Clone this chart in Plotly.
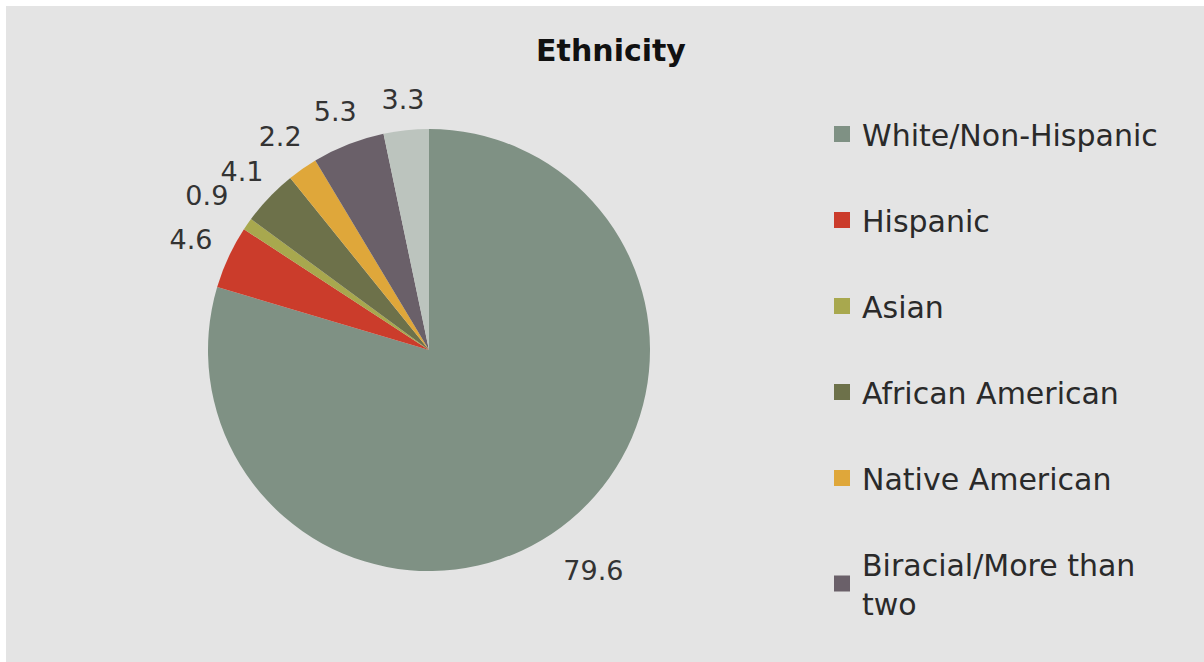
import plotly.graph_objects as go

# Data
categories = ["White/Non-Hispanic", "Hispanic", "Asian", "African American",
              "Native American", "Biracial/More than two", "Other"]
values = [79.6, 4.6, 0.9, 4.1, 2.2, 5.3, 3.3]
colors = ["#7f9184", "#cb3c2b", "#a8a84e", "#6d714a", "#dfa73a", "#6a6069", "#bcc4be"]
legend_names = ["White/Non-Hispanic", "Hispanic", "Asian", "African American",
                "Native American", "Biracial/More than<br>two"]

W, H = 1204, 662
font_family = "'DejaVu Sans', sans-serif"
CX, CY, R = 429, 350, 221      # pie centre / radius in pixels


def label_ring(show, r_outer, r_inner):
    """Invisible ring (same slices as the pie) that carries value labels outside the pie."""
    return go.Pie(
        labels=categories,
        values=values,
        sort=False,
        direction="clockwise",
        rotation=0,
        hole=r_inner / r_outer,
        marker=dict(colors=["rgba(0,0,0,0)"] * len(values), line=dict(width=0)),
        texttemplate=["%{value}" if s else "" for s in show],
        textposition="inside",
        insidetextorientation="horizontal",
        insidetextfont=dict(size=27, color="#333333", family=font_family),
        showlegend=False,
        hoverinfo="skip",
        domain=dict(x=[(CX - r_outer) / W, (CX + r_outer) / W],
                    y=[1 - (CY + r_outer) / H, 1 - (CY - r_outer) / H]),
    )


fig = go.Figure()
fig.add_trace(label_ring([1, 0, 0, 0, 0, 0, 0], 311, 239))
fig.add_trace(label_ring([0, 1, 0, 0, 0, 0, 0], 300, R))
fig.add_trace(label_ring([0, 0, 0, 1, 0, 1, 0], 292, R))
fig.add_trace(label_ring([0, 0, 1, 0, 1, 0, 1], 278, R))
# the pie itself
fig.add_trace(go.Pie(
    labels=categories,
    values=values,
    sort=False,
    direction="clockwise",
    rotation=0,
    marker=dict(colors=colors, line=dict(width=0)),
    textinfo="none",
    showlegend=False,
    hoverinfo="label+value",
    domain=dict(x=[(CX - R) / W, (CX + R) / W], y=[1 - (CY + R) / H, 1 - (CY - R) / H]),
))

# legend entries (only the six visible in the reference)
for i, nm in enumerate(legend_names):
    fig.add_trace(go.Scatter(
        x=[None], y=[None], mode="markers",
        marker=dict(symbol="square", size=16, color=colors[i]),
        name=nm, legendgroup=f"g{i}", showlegend=True,
    ))

fig.update_layout(
    width=W, height=H,
    margin=dict(l=0, r=0, t=0, b=0),
    paper_bgcolor="#ffffff",
    plot_bgcolor="rgba(0,0,0,0)",
    xaxis=dict(visible=False),
    yaxis=dict(visible=False),
    uniformtext=dict(minsize=27, mode="show"),
    title=dict(text="<b>Ethnicity</b>", x=611 / W, xanchor="center",
               y=1 - 50 / H, yanchor="middle",
               font=dict(size=30, color="#111111", family=font_family)),
    legend=dict(
        x=822 / W, y=1 - 108 / H, xanchor="left", yanchor="top",
        font=dict(size=30, color="#2a2a2a", family=font_family),
        bgcolor="rgba(0,0,0,0)",
        tracegroupgap=44,
        itemsizing="trace",
    ),
    shapes=[dict(type="rect", xref="paper", yref="paper",
                 x0=6 / W, x1=1, y0=0, y1=1 - 6 / H,
                 fillcolor="#e4e4e4", line=dict(width=0), layer="below")],
)

fig.write_html("out.html", config={"displayModeBar": False},
               post_script="document.body.style.margin='0px';")
